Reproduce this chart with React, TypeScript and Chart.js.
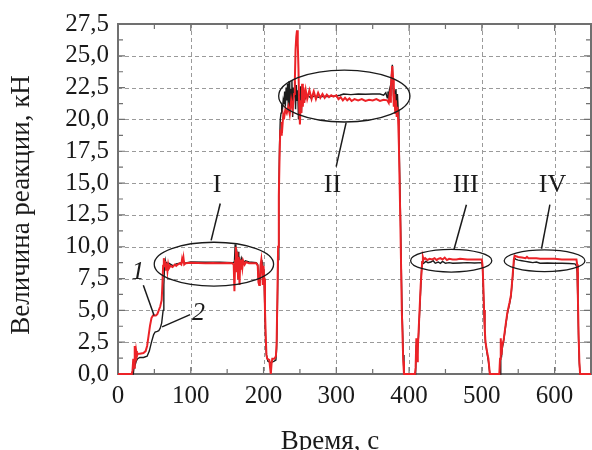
import React, { useEffect, useRef } from "react";
import { Chart, registerables } from "chart.js";

Chart.register(...registerables);

// ---- data (time, s / reaction, kN) ----
const timeRed = [
  0, 19, 20, 21, 22, 23, 24, 25, 26, 27, 30, 35, 38, 40, 42, 44, 46, 48, 52, 54, 56, 58, 60, 61, 62, 63, 64, 65, 66, 67, 68, 69, 70, 72, 75, 78, 80, 82, 85, 87, 88, 89, 90, 91, 93,
  100, 110, 120, 130, 140, 150, 157, 159, 160, 161, 162, 163, 164, 165, 166, 167, 168, 169, 170, 171, 172, 174, 176, 180, 185, 190, 192, 193, 194, 195, 196, 197, 198, 199, 200,
  201, 202, 203, 204, 205, 208, 209, 210, 211, 212, 215, 217, 218, 219, 220, 221, 222, 223, 224, 225, 226, 227, 228, 230, 232, 234, 236, 238, 240, 242, 243, 244, 245, 246, 247, 248, 249,
  250, 251, 252, 253, 254, 255, 256, 258, 260, 263, 266, 269, 272, 275, 278, 281, 284, 287, 290, 293, 296, 300, 303, 306, 309, 312, 315, 318, 321, 325, 330, 335, 340, 345, 350, 355, 360, 365, 370,
  372, 373, 374, 375, 376, 377, 378, 379, 380, 381, 382, 383, 384, 385, 386, 388, 390, 392, 393, 408, 409, 410, 411, 412, 414, 416, 418, 419, 420, 422, 425, 428, 432, 435, 438, 440, 443, 446, 449,
  452, 455, 460, 465, 470, 480, 490, 500, 501, 502, 503, 504, 505, 507, 509, 511, 524, 525, 526, 527, 528, 530, 533, 535, 538, 540, 542, 544, 545, 547, 550, 555, 560, 562, 564, 570, 575, 580,
  590, 600, 610, 620, 630, 631, 632, 633, 634, 635, 650,
];
const valueRed = [
  0, 0, 0.3, 1.2, 0.5, 2.2, 1.0, 1.8, 1.4, 1.6, 1.6, 1.65, 1.8, 2.2, 3.0, 3.8, 4.4, 4.6, 4.6, 4.7, 5.0, 5.3, 5.8, 7.0, 8.5, 9.1, 8.4, 8.9, 8.2, 8.7, 8.1, 8.6, 8.3, 8.5, 8.4, 8.6, 8.5, 8.6, 8.7, 8.6, 9.0, 8.7, 9.1, 8.6, 8.7,
  8.75, 8.72, 8.7, 8.72, 8.7, 8.72, 8.7, 8.6, 6.5, 8.9, 10.0, 8.0, 9.6, 7.5, 9.2, 7.0, 9.0, 8.2, 9.0, 8.4, 8.9, 8.6, 8.8, 8.7, 8.7, 8.7, 8.5, 7.2, 7.0, 7.3, 8.6, 9.0, 8.4, 7.0, 8.5,
  7.5, 5.0, 3.0, 1.5, 1.2, 1.1, 0.5, 0.0, 0.8, 1.2, 1.2, 1.4, 2.5, 6.0, 10.0, 14.0, 17.0, 19.2, 18.8, 19.8, 19.5, 20.3, 20.0, 20.8, 20.5, 21.0, 20.4, 21.5, 20.8, 22.0, 23.0, 25.5, 26.5, 27.0, 26.0, 24.0, 21.0,
  19.6, 21.5, 20.5, 22.8, 21.0, 22.5, 21.3, 22.3, 21.6, 22.3, 21.6, 22.2, 21.6, 22.1, 21.7, 22.0, 21.7, 21.95, 21.75, 21.9, 21.8, 21.9, 21.6, 21.75, 21.5, 21.7, 21.5, 21.65, 21.45, 21.6, 21.5, 21.6, 21.45, 21.55, 21.5, 21.6, 21.45, 21.55, 21.5,
  21.3, 21.8, 21.4, 22.5, 23.5, 24.2, 23.2, 21.0, 22.0, 20.5, 21.5, 20.2, 21.0, 20.0, 18.0, 12.0, 5.0, 1.0, 0, 0, 0.5, 2.8, 1.0, 2.0, 4.5, 7.0, 8.8, 9.2, 9.0, 9.1, 8.95, 9.05, 9.0, 9.1, 8.95, 9.05, 9.1, 9.0, 9.15,
  8.95, 9.05, 9.0, 9.0, 9.05, 9.0, 9.0, 9.0, 8.5, 7.0, 5.0, 3.5, 2.5, 1.8, 1.2, 0, 0, 1.2, 2.8, 1.5, 2.2, 2.7, 4.0, 4.8, 5.6, 6.2, 7.5, 9.0, 9.3, 9.25, 9.2, 9.15, 9.1, 9.2, 9.1, 9.1, 9.1, 9.05,
  9.05, 9.05, 9.0, 9.0, 9.0, 8.6, 6.0, 3.0, 1.0, 0, 0,
];

const timeBlack = [
  0, 21, 22, 23, 24, 25, 27, 30, 35, 40, 43, 46, 49, 51, 54, 56, 58, 60, 62, 63, 64, 65, 66, 67, 68, 70, 73, 76, 80, 85, 88, 90, 92, 95, 100, 120, 140, 158, 160,
  161, 162, 163, 164, 165, 166, 167, 168, 170, 172, 175, 180, 190, 192, 193, 195, 196, 198, 199, 200, 201, 202, 203, 204, 206, 210, 214, 217, 218, 219, 220, 221, 222, 223, 224, 225,
  226, 227, 228, 229, 230, 231, 232, 233, 234, 235, 236, 237, 238, 239, 240, 241, 242, 243, 244, 245, 246, 247, 248, 249, 250, 251, 252, 253, 254, 255, 257, 260, 265, 270, 275, 280, 290,
  300, 305, 310, 320, 330, 340, 350, 360, 365, 368, 370, 371, 372, 373, 374, 375, 376, 377, 378, 379, 380, 381, 382, 383, 384, 385, 386, 388, 390, 392, 393, 409, 410, 411, 413, 415, 417,
  418, 419, 420, 423, 426, 430, 433, 436, 440, 443, 446, 450, 455, 460, 470, 480, 490, 500, 501, 502, 503, 504, 505, 507, 509, 511, 525, 526, 527, 528, 530, 533, 535, 538, 540, 542, 544,
  545, 547, 550, 555, 560, 565, 570, 575, 580, 590, 600, 610, 620, 628, 630, 631, 632, 633, 634, 635, 650,
];
const valueBlack = [
  0, 0, 0.5, 1.8, 0.8, 1.0, 1.2, 1.3, 1.3, 1.4, 1.8, 2.5, 3.1, 3.3, 3.35, 3.4, 3.6, 4.0, 5.0, 7.0, 8.5, 8.9, 8.5, 8.8, 8.5, 8.7, 8.6, 8.5, 8.65, 8.7, 8.8, 8.9, 8.7, 8.75, 8.8, 8.78, 8.78, 8.75, 8.8,
  10.2, 9.0, 9.8, 8.5, 9.6, 8.4, 9.2, 8.6, 9.1, 8.7, 8.9, 8.8, 8.75, 8.6, 7.5, 7.3, 8.6, 8.8, 7.3, 8.2, 7.0, 4.5, 2.5, 1.5, 1.0, 0.9, 1.0, 1.1, 2.0, 5.0, 9.0, 14.0, 18.0, 20.0, 20.5, 21.0,
  20.8, 21.5, 21.2, 22.2, 21.0, 22.5, 21.5, 22.8, 21.0, 23.0, 20.5, 22.4, 21.5, 23.1, 20.2, 22.5, 21.8, 23.0, 20.8, 22.7, 21.5, 22.3, 20.0, 22.0, 21.2, 22.6, 20.5, 22.0, 21.3, 22.2, 21.6, 21.9, 21.7, 21.85, 21.75, 21.8, 21.8,
  21.85, 21.9, 22.0, 21.95, 22.0, 21.98, 22.0, 22.0, 21.9, 22.1, 21.7, 22.2, 21.8, 22.3, 21.9, 22.5, 23.5, 24.3, 22.5, 21.5, 22.3, 20.8, 22.4, 20.5, 22.0, 20.8, 19.0, 13.0, 6.0, 1.5, 0, 0, 2.3, 1.2, 3.0, 5.5, 8.0,
  8.8, 8.9, 8.7, 8.85, 8.75, 8.8, 8.9, 8.7, 8.8, 8.7, 8.85, 8.7, 8.75, 8.7, 8.72, 8.75, 8.72, 8.75, 8.3, 6.8, 5.0, 3.5, 2.5, 1.7, 1.0, 0, 0, 2.4, 1.3, 2.0, 2.6, 3.9, 4.7, 5.5, 6.1, 7.4, 8.8,
  9.1, 9.0, 8.95, 8.9, 8.85, 8.8, 8.75, 8.8, 8.7, 8.72, 8.7, 8.7, 8.68, 8.65, 8.5, 8.0, 5.5, 2.5, 0.8, 0, 0,
];

const xTickValues = [0, 100, 200, 300, 400, 500, 600];
const yTickValues = [0, 2.5, 5, 7.5, 10, 12.5, 15, 17.5, 20, 22.5, 25, 27.5];
const xRange = [0, 650];
const yRange = [0, 27.5];

// annotation ellipses (data units) and labels
const ellipseCenters = [
  [131.8, 8.63],
  [311, 21.84],
  [457.9, 8.9],
  [586.2, 8.9],
];
const ellipseRadii = [
  [82, 1.72],
  [90.2, 2.04],
  [55.8, 0.89],
  [55.5, 0.85],
];
const romanLabels = ["I", "II", "III", "IV"];
const romanPositions = [
  [136.3, 14.8],
  [294.7, 14.8],
  [477.8, 14.8],
  [597.2, 14.8],
];
const romanLeaders = [
  [140.5, 13.4, 128, 10.5],
  [299.8, 16.3, 313.5, 19.75],
  [478.8, 13.3, 461.7, 9.78],
  [593.5, 13.3, 582, 9.84],
];
const curveLabels = ["1", "2"];
const curveLabelPositions = [
  [27.5, 8.0],
  [110.6, 4.77],
];
const curveLeaders = [
  [34.8, 6.97, 49.6, 4.6],
  [99.1, 4.67, 60.6, 3.7],
];

const SERIF = "'Liberation Serif', 'Times New Roman', Times, serif";

const decorPlugin = {
  id: "decor",
  beforeDatasetsDraw(chart: any) {
    const { ctx, chartArea: a, scales } = chart;
    const xs = scales.x;
    const ys = scales.y;
    const X = (v: number) => xs.getPixelForValue(v);
    const Y = (v: number) => ys.getPixelForValue(v);
    ctx.save();
    // dashed grid
    ctx.strokeStyle = "#9a9a9a";
    ctx.lineWidth = 1;
    ctx.setLineDash([4, 3]);
    xTickValues.forEach((v) => {
      const px = Math.round(X(v)) + 0.5;
      if (px <= a.left + 1 || px >= a.right - 1) return;
      ctx.beginPath();
      ctx.moveTo(px, a.top);
      ctx.lineTo(px, a.bottom);
      ctx.stroke();
    });
    yTickValues.forEach((v) => {
      const py = Math.round(Y(v)) + 0.5;
      if (py <= a.top + 1 || py >= a.bottom - 1) return;
      ctx.beginPath();
      ctx.moveTo(a.left, py);
      ctx.lineTo(a.right, py);
      ctx.stroke();
    });
    // frame
    ctx.setLineDash([]);
    ctx.strokeStyle = "#707070";
    ctx.lineWidth = 2;
    ctx.strokeRect(a.left, a.top, a.right - a.left, a.bottom - a.top);
    // inward ticks (major + minor)
    ctx.lineWidth = 1.2;
    for (let i = 0; i < xTickValues.length; i++) {
      const v = xTickValues[i];
      [v, v + 50].forEach((m, k) => {
        if (m > xRange[1]) return;
        const px = X(m);
        const len = k === 0 ? 7 : 5;
        ctx.beginPath();
        ctx.moveTo(px, a.bottom);
        ctx.lineTo(px, a.bottom - len);
        ctx.moveTo(px, a.top);
        ctx.lineTo(px, a.top + len);
        ctx.stroke();
      });
    }
    for (let i = 0; i < yTickValues.length; i++) {
      const v = yTickValues[i];
      [v, v + 1.25].forEach((m, k) => {
        if (m > yRange[1]) return;
        const py = Y(m);
        const len = k === 0 ? 7 : 5;
        ctx.beginPath();
        ctx.moveTo(a.left, py);
        ctx.lineTo(a.left + len, py);
        ctx.moveTo(a.right, py);
        ctx.lineTo(a.right - len, py);
        ctx.stroke();
      });
    }
    ctx.restore();
  },
  afterDatasetsDraw(chart: any) {
    const { ctx, scales } = chart;
    const xs = scales.x;
    const ys = scales.y;
    const X = (v: number) => xs.getPixelForValue(v);
    const Y = (v: number) => ys.getPixelForValue(v);
    ctx.save();
    // ellipses
    ctx.strokeStyle = "#1a1a1a";
    ctx.lineWidth = 1.3;
    ellipseCenters.forEach((c, i) => {
      const cx = X(c[0]);
      const cy = Y(c[1]);
      const rx = Math.abs(X(c[0] + ellipseRadii[i][0]) - cx);
      const ry = Math.abs(Y(c[1] + ellipseRadii[i][1]) - cy);
      ctx.beginPath();
      ctx.ellipse(cx, cy, rx, ry, 0, 0, Math.PI * 2);
      ctx.stroke();
    });
    // leaders
    ctx.lineWidth = 1.5;
    [...romanLeaders, ...curveLeaders].forEach((l) => {
      ctx.beginPath();
      ctx.moveTo(X(l[0]), Y(l[1]));
      ctx.lineTo(X(l[2]), Y(l[3]));
      ctx.stroke();
    });
    // labels
    ctx.fillStyle = "#1a1a1a";
    ctx.textAlign = "center";
    ctx.textBaseline = "middle";
    ctx.font = `26px ${SERIF}`;
    romanLabels.forEach((t, i) => {
      ctx.fillText(t, X(romanPositions[i][0]), Y(romanPositions[i][1]));
    });
    ctx.font = `italic 26px ${SERIF}`;
    curveLabels.forEach((t, i) => {
      ctx.fillText(t, X(curveLabelPositions[i][0]), Y(curveLabelPositions[i][1]));
    });
    // axis titles
    ctx.font = `27px ${SERIF}`;
    ctx.textBaseline = "alphabetic";
    ctx.fillText("Время, с", 330, 449);
    ctx.translate(29, 205);
    ctx.rotate(-Math.PI / 2);
    ctx.fillText("Величина реакции, кН", 0, 0);
    ctx.restore();
  },
};

export default function App() {
  const ref = useRef<HTMLCanvasElement | null>(null);
  useEffect(() => {
    document.body.style.margin = "0";
    const canvas = ref.current;
    if (!canvas) return;
    const toPoints = (t: number[], v: number[]) => t.map((x, i) => ({ x, y: v[i] }));
    const chart = new Chart(canvas, {
      type: "line",
      data: {
        datasets: [
          {
            label: "1",
            data: toPoints(timeRed, valueRed),
            borderColor: "#ec2227",
            borderWidth: 2,
            pointRadius: 0,
            tension: 0,
            order: 0,
            clip: false,
          },
          {
            label: "2",
            data: toPoints(timeBlack, valueBlack),
            borderColor: "#1c1c1c",
            borderWidth: 1.4,
            pointRadius: 0,
            tension: 0,
            order: 1,
            clip: false,
          },
        ],
      },
      options: {
        animation: false,
        responsive: false,
        devicePixelRatio: 1,
        layout: { padding: { top: 22, right: 1, left: 0, bottom: 0 } },
        plugins: { legend: { display: false }, tooltip: { enabled: false } },
        scales: {
          x: {
            type: "linear",
            min: xRange[0],
            max: xRange[1],
            afterBuildTicks: (s: any) => {
              s.ticks = xTickValues.map((value) => ({ value }));
            },
            afterFit: (s: any) => {
              s.height = 76;
            },
            grid: { display: false, drawTicks: false },
            border: { display: false },
            ticks: {
              autoSkip: false,
              padding: 7,
              maxRotation: 0,
              color: "#1a1a1a",
              font: { family: SERIF, size: 25 },
              callback: (v: any) => String(v),
            },
          },
          y: {
            type: "linear",
            min: yRange[0],
            max: yRange[1],
            afterBuildTicks: (s: any) => {
              s.ticks = yTickValues.map((value) => ({ value }));
            },
            afterFit: (s: any) => {
              s.width = 118;
            },
            grid: { display: false, drawTicks: false },
            border: { display: false },
            ticks: {
              autoSkip: false,
              padding: 9,
              color: "#1a1a1a",
              font: { family: SERIF, size: 25 },
              callback: (v: any) => Number(v).toFixed(1).replace(".", ","),
            },
          },
        },
      },
      plugins: [decorPlugin],
    });
    return () => chart.destroy();
  }, []);
  return (
    <div style={{ width: 592, height: 450 }}>
      <canvas ref={ref} width={592} height={450} style={{ display: "block" }} />
    </div>
  );
}
